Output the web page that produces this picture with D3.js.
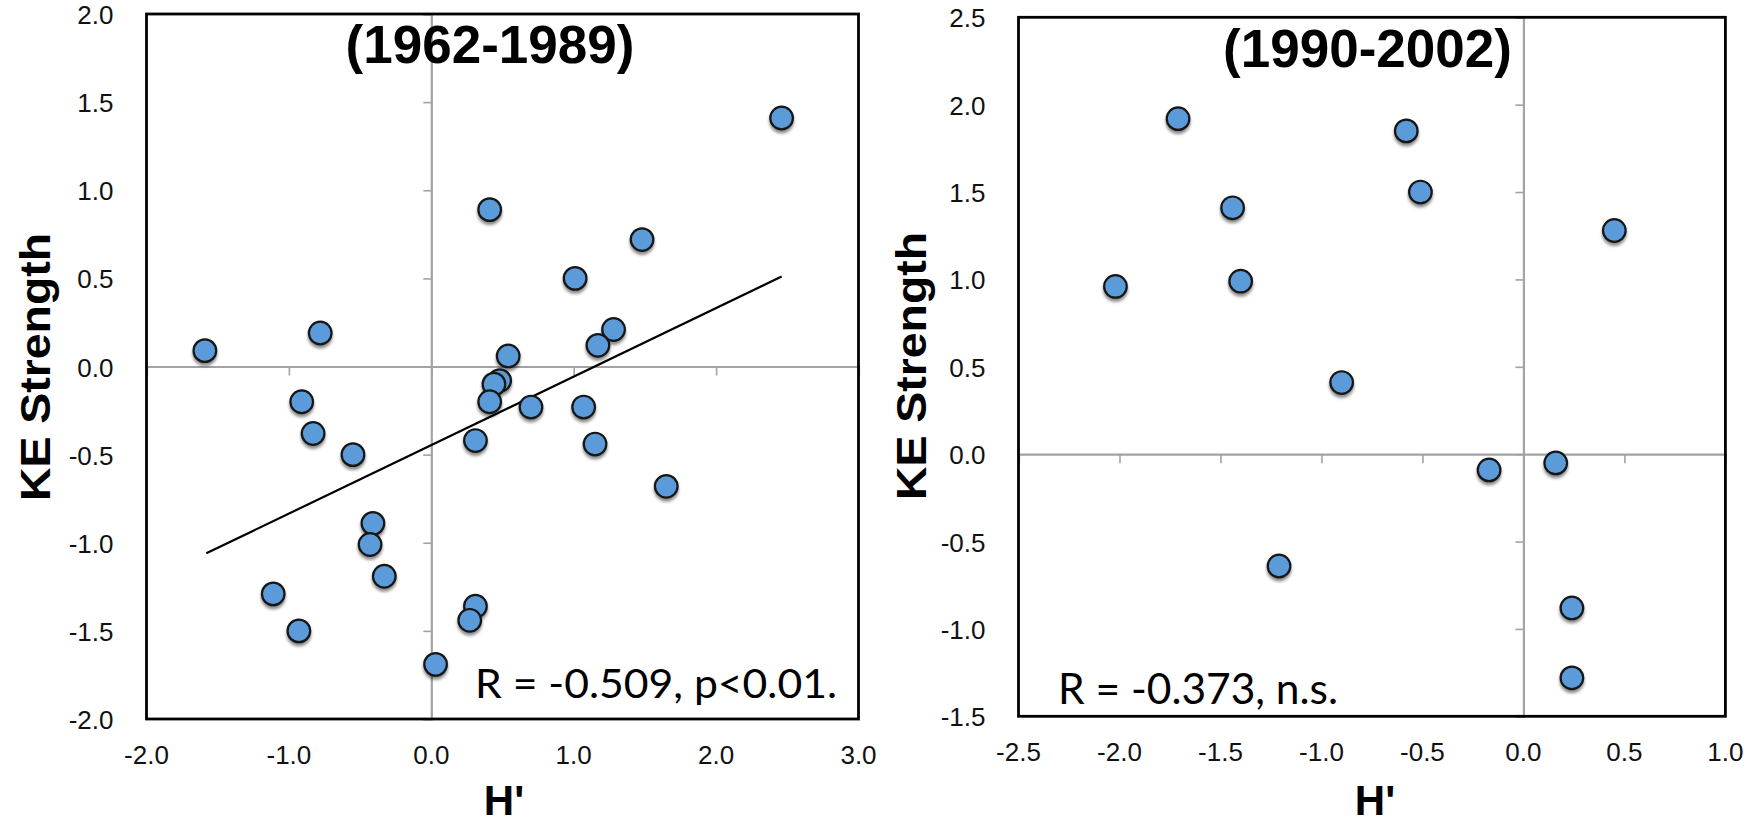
<!DOCTYPE html>
<html>
<head>
<meta charset="utf-8">
<script src="https://cdn.jsdelivr.net/npm/d3@7"></script>
<style>
  html, body { margin: 0; padding: 0; background: #ffffff; }
  svg { display: block; }
</style>
</head>
<body>
<svg id="chart" width="1754" height="826"></svg>
<script>
// ---------- DATA ----------
// Left panel (1962-1989)
const leftTitle = "(1962-1989)";
const leftStat = "R = -0.509, p<0.01.";
const leftH  = [2.46, 0.41, 1.48, 1.01, -1.59, -0.78, 1.28, 1.17, 0.54, 0.48, 0.44, -0.91, 0.41, 0.70, 1.07,
                -0.83, 0.31, 1.15, -0.55, 1.65, -0.41, -0.43, -0.33, -1.11, 0.31, 0.27, -0.93, 0.03];
const leftKE = [1.41, 0.89, 0.72, 0.50, 0.09, 0.19, 0.21, 0.12, 0.06, -0.08, -0.10, -0.20, -0.20, -0.23, -0.23,
                -0.38, -0.42, -0.44, -0.50, -0.68, -0.89, -1.01, -1.19, -1.29, -1.36, -1.44, -1.50, -1.69];
const leftTrendH  = [-1.58, 2.46];
const leftTrendKE = [-1.06, 0.51];
const leftXTicks = [-2, -1, 0, 1, 2, 3];
const leftYTicks = [-2, -1.5, -1, -0.5, 0, 0.5, 1, 1.5, 2];

// Right panel (1990-2002)
const rightTitle = "(1990-2002)";
const rightStat = "R = -0.373, n.s.";
const rightH  = [-1.71, -0.58, -0.51, -1.44, 0.45, -2.02, -1.40, -0.90, 0.16, -0.17, -1.21, 0.24, 0.24];
const rightKE = [1.92, 1.85, 1.50, 1.41, 1.28, 0.96, 0.99, 0.41, -0.05, -0.09, -0.64, -0.88, -1.28];
const rightXTicks = [-2.5, -2, -1.5, -1, -0.5, 0, 0.5, 1];
const rightYTicks = [-1.5, -1, -0.5, 0, 0.5, 1, 1.5, 2, 2.5];

const xLabel = "H'";
const yLabel = "KE Strength";

// ---------- DRAWING ----------
const svg = d3.select("#chart");
svg.append("rect").attr("width", 1754).attr("height", 826).attr("fill", "#ffffff");

const defs = svg.append("defs");
const f = defs.append("filter").attr("id", "shadow")
  .attr("x", "-50%").attr("y", "-50%").attr("width", "200%").attr("height", "200%");
f.append("feDropShadow").attr("dx", 0).attr("dy", 3).attr("stdDeviation", 1.8)
  .attr("flood-color", "#000").attr("flood-opacity", 0.45);

const fmt = d => d3.format(".1f")(d).replace("\u2212", "-");

function panel(cfg) {
  const x = d3.scaleLinear().domain(cfg.xDomain).range([cfg.left, cfg.right]);
  const y = d3.scaleLinear().domain(cfg.yDomain).range([cfg.bottom, cfg.top]);
  const g = svg.append("g");
  const x0 = x(0), y0 = y(0);
  const gray = "#a3a3a3";

  // zero axes with D3 axis generators
  const yAxis = d3.axisLeft(y).tickValues(cfg.yTicks).tickSize(8).tickFormat("");
  const ya = g.append("g").attr("transform", `translate(${x0},0)`).call(yAxis);
  const xAxis = d3.axisBottom(x).tickValues(cfg.xTicks).tickSize(9).tickFormat("");
  const xa = g.append("g").attr("transform", `translate(0,${y0})`).call(xAxis);
  [ya, xa].forEach(a => {
    a.select(".domain").attr("stroke", gray).attr("stroke-width", 2.2);
    a.selectAll(".tick line").attr("stroke", gray).attr("stroke-width", 1.6);
  });

  // frame
  g.append("rect")
    .attr("x", cfg.left).attr("y", cfg.top)
    .attr("width", cfg.right - cfg.left).attr("height", cfg.bottom - cfg.top)
    .attr("fill", "none").attr("stroke", "#000").attr("stroke-width", 2.8);

  // tick labels
  g.selectAll(".ylab").data(cfg.yTicks).enter().append("text")
    .attr("x", cfg.left - 33).attr("y", d => y(d) + 10)
    .attr("text-anchor", "end")
    .attr("font-family", "'Liberation Sans', Arial, sans-serif")
    .attr("font-size", 26).attr("fill", "#111")
    .text(d => fmt(d));
  g.selectAll(".xlab").data(cfg.xTicks).enter().append("text")
    .attr("x", d => x(d)).attr("y", cfg.bottom + 45)
    .attr("text-anchor", "middle")
    .attr("font-family", "'Liberation Sans', Arial, sans-serif")
    .attr("font-size", 26).attr("fill", "#111")
    .text(d => fmt(d));

  // trend line
  if (cfg.trendH) {
    g.append("line")
      .attr("x1", x(cfg.trendH[0])).attr("y1", y(cfg.trendKE[0]))
      .attr("x2", x(cfg.trendH[1])).attr("y2", y(cfg.trendKE[1]))
      .attr("stroke", "#000").attr("stroke-width", 2.2);
  }

  // points
  const pts = cfg.h.map((v, i) => ({ h: v, ke: cfg.ke[i] }));
  g.append("g").attr("filter", "url(#shadow)")
    .selectAll("circle").data(pts).enter().append("circle")
    .attr("cx", d => x(d.h)).attr("cy", d => y(d.ke))
    .attr("r", 11.3)
    .attr("fill", "#5b9bd9")
    .attr("stroke", "#161616").attr("stroke-width", 2.2);

  // title
  g.append("text")
    .attr("x", cfg.titleX).attr("y", cfg.titleY)
    .attr("text-anchor", "middle")
    .attr("font-family", "'Liberation Sans', Arial, sans-serif")
    .attr("font-weight", "bold").attr("font-size", 53).attr("fill", "#000")
    .text(cfg.title);

  // stat text
  g.append("text")
    .attr("x", cfg.statX).attr("y", cfg.statY)
    .attr("font-family", "Lato, 'Open Sans', sans-serif")
    .attr("font-size", cfg.statSize).attr("fill", "#000")
    .attr("textLength", cfg.statLen).attr("lengthAdjust", "spacingAndGlyphs")
    .text(cfg.stat);

  // axis titles
  g.append("text")
    .attr("x", cfg.xtX).attr("y", cfg.xtY)
    .attr("text-anchor", "middle")
    .attr("font-family", "'Liberation Sans', Arial, sans-serif")
    .attr("font-weight", "bold").attr("font-size", 42).attr("fill", "#000")
    .text(xLabel);
  g.append("text")
    .attr("transform", `translate(${cfg.ytX},${cfg.ytY}) rotate(-90)`)
    .attr("text-anchor", "middle")
    .attr("font-family", "'Liberation Sans', Arial, sans-serif")
    .attr("font-weight", "bold").attr("font-size", 42).attr("fill", "#000")
    .attr("textLength", 268).attr("lengthAdjust", "spacingAndGlyphs")
    .text(yLabel);
}

panel({
  left: 146.5, right: 858.5, top: 14, bottom: 719,
  xDomain: [-2, 3], yDomain: [-2, 2],
  xTicks: leftXTicks, yTicks: leftYTicks,
  h: leftH, ke: leftKE, trendH: leftTrendH, trendKE: leftTrendKE,
  title: leftTitle, titleX: 490, titleY: 63,
  stat: leftStat, statX: 475, statY: 698, statSize: 40, statLen: 362,
  xtX: 504, xtY: 815, ytX: 50, ytY: 367
});

panel({
  left: 1018.5, right: 1725.4, top: 17.3, bottom: 716.3,
  xDomain: [-2.5, 1], yDomain: [-1.5, 2.5],
  xTicks: rightXTicks, yTicks: rightYTicks,
  h: rightH, ke: rightKE,
  title: rightTitle, titleX: 1367.5, titleY: 66.5,
  stat: rightStat, statX: 1058, statY: 704, statSize: 42, statLen: 280,
  xtX: 1375, xtY: 815, ytX: 926, ytY: 366
});
</script>
</body>
</html>
